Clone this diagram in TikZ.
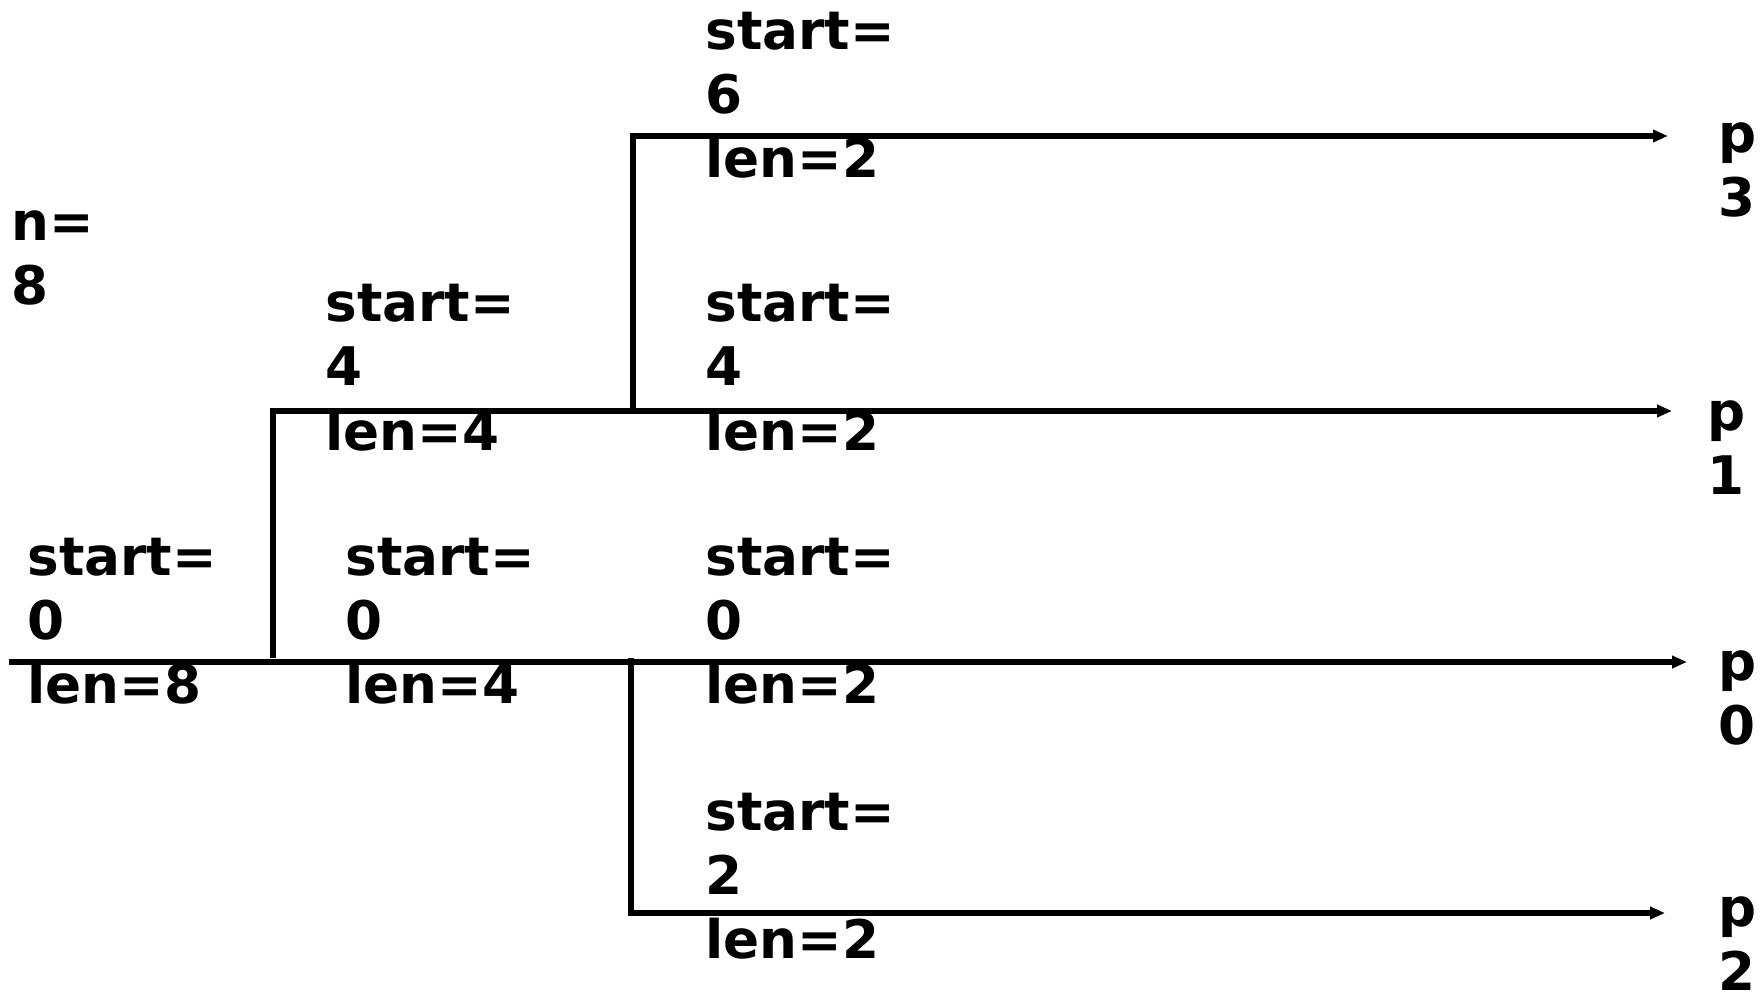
\documentclass[tikz,border=0pt]{standalone}
\usepackage{fontspec}
\setmainfont{DejaVu Sans}
\usetikzlibrary{arrows.meta}
\newcommand\labtrio[3]{\vtop{\hbox{#1}\hbox{#2}\hbox{#3}}}
\newcommand\labduo[2]{\vtop{\hbox{#1}\hbox{#2}}}
\tikzset{
  lab/.style={anchor=base west, inner sep=0pt, font=\fontsize{26.6}{32}\selectfont\bfseries},
  wire/.style={line width=2.7pt, draw=black},
  tipped/.style={wire, -{Triangle[length=7.5pt,width=6pt]}}
}
\begin{document}
\begin{tikzpicture}[x=0.5pt,y=-0.5pt]
\useasboundingbox (0,0) rectangle (1760,994);
% junction coordinates
\coordinate (o)  at (9,662);
\coordinate (j1) at (273,658);
\coordinate (k1) at (273,411);
\coordinate (j2) at (633,409);
\coordinate (k2) at (633,136);
\coordinate (j3) at (631,658);
\coordinate (k3) at (631,913);
\coordinate (e3) at (1668,136);
\coordinate (e1) at (1672,411);
\coordinate (e0) at (1687,662);
\coordinate (e2) at (1665,913);
% connectors
\draw[tipped] (o) -- (e0);
\draw[tipped] (j1) -- (k1) -- (e1);
\draw[tipped] (j2) -- (k2) -- (e3);
\draw[tipped] (j3) -- (k3) -- (e2);
% labels
\node[lab] (n) at (11,241) {\labduo{n=}{8}};
\node[lab] (s0a) at (27,575) {\labtrio{start=}{0}{len=8}};
\node[lab] (s4a) at (325,322) {\labtrio{start=}{4}{len=4}};
\node[lab] (s0b) at (345,575) {\labtrio{start=}{0}{len=4}};
\node[lab] (s6) at (705,50) {\labtrio{start=}{6}{len=2}};
\node[lab] (s4b) at (705,322) {\labtrio{start=}{4}{len=2}};
\node[lab] (s0c) at (705,575) {\labtrio{start=}{0}{len=2}};
\node[lab] (s2) at (705,830) {\labtrio{start=}{2}{len=2}};
\node[lab] (p3) at (1718,153) {\labduo{p}{3}};
\node[lab] (p1) at (1707,430) {\labduo{p}{1}};
\node[lab] (p0) at (1718,680) {\labduo{p}{0}};
\node[lab] (p2) at (1718,926) {\labduo{p}{2}};
\end{tikzpicture}
\end{document}
